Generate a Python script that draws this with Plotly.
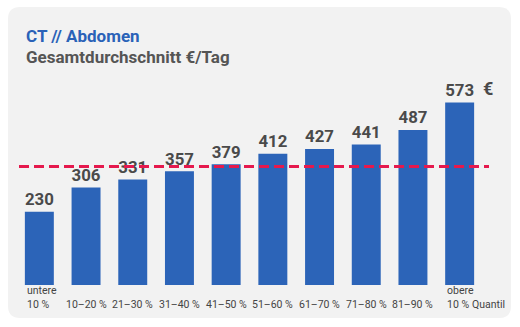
import plotly.graph_objects as go

categories = ["untere<br>10 %", "10–20 %", "21–30 %", "31–40 %", "41–50 %",
              "51–60 %", "61–70 %", "71–80 %", "81–90 %", "obere<br>10 %"]
values = [230, 306, 331, 357, 379, 412, 427, 441, 487, 573]
average = 372
title1 = "CT // Abdomen"
title2 = "Gesamtdurchschnitt €/Tag"
currency = "€"
quantile_label = "Quantil"

W, H = 520, 327
ML, MR, MT, MB = 16, 37, 50, 42
PW, PH = W - ML - MR, H - MT - MB


def px_x(x):
    return (x - ML) / PW


def px_y(y):
    return 1 - (y - MT) / PH


FONT = "Roboto, 'DejaVu Sans', sans-serif"
BLUE = "#2c64b8"
GRAY = "#4a4a4a"

fig = go.Figure()
fig.add_trace(go.Bar(
    x=list(range(len(values))), y=values,
    marker=dict(color=BLUE, line=dict(width=0)),
    text=[str(v) for v in values], textposition="outside",
    textfont=dict(family=FONT, size=18, color=GRAY, weight="bold"),
    cliponaxis=False, width=0.62,
))

# rounded panel
x0, y0, x1, y1, r = 8, 7, 511, 318, 12
path = (f"M {px_x(x0 + r)} {px_y(y0)} L {px_x(x1 - r)} {px_y(y0)} "
        f"Q {px_x(x1)} {px_y(y0)} {px_x(x1)} {px_y(y0 + r)} "
        f"L {px_x(x1)} {px_y(y1 - r)} Q {px_x(x1)} {px_y(y1)} {px_x(x1 - r)} {px_y(y1)} "
        f"L {px_x(x0 + r)} {px_y(y1)} Q {px_x(x0)} {px_y(y1)} {px_x(x0)} {px_y(y1 - r)} "
        f"L {px_x(x0)} {px_y(y0 + r)} Q {px_x(x0)} {px_y(y0)} {px_x(x0 + r)} {px_y(y0)} Z")
fig.add_shape(type="path", path=path, xref="paper", yref="paper",
              fillcolor="#f2f2f2", line=dict(width=0), layer="below")

# average line
fig.add_shape(type="line", xref="paper", yref="y", x0=px_x(19), x1=px_x(489),
              y0=average, y1=average,
              line=dict(color="#e5194d", width=3, dash="10px,5px"), layer="above")

ann = []
for i, c in enumerate(categories):
    first_or_last = i in (0, len(categories) - 1)
    ann.append(dict(x=i - 0.31 if first_or_last else i, xref="x",
                    y=px_y(313), yref="paper", yanchor="bottom",
                    xanchor="left" if first_or_last else "center", align="left",
                    text=c, showarrow=False,
                    font=dict(family=FONT, size=10.5, color="#444")))
ann.append(dict(x=px_x(507), xref="paper", y=px_y(313), yref="paper",
                yanchor="bottom", xanchor="right", text=quantile_label, showarrow=False,
                font=dict(family=FONT, size=10.5, color="#444")))
ann.append(dict(x=len(values) - 1, xref="x", y=values[-1], yref="y", xshift=28,
                yanchor="bottom", yshift=2, xanchor="center", text=currency, showarrow=False,
                font=dict(family=FONT, size=18, color=GRAY, weight="bold")))
ann.append(dict(x=px_x(25), xref="paper", y=px_y(47.5), yref="paper", xanchor="left",
                yanchor="bottom", borderpad=0, text=f"<b>{title1}</b>", showarrow=False,
                font=dict(family=FONT, size=17, color="#2a62b8")))
ann.append(dict(x=px_x(25), xref="paper", y=px_y(46), yref="paper", xanchor="left",
                yanchor="top", borderpad=0, text=f"<b>{title2}</b>", showarrow=False,
                font=dict(family=FONT, size=17, color="#555555")))

fig.update_layout(
    width=W, height=H, margin=dict(l=ML, r=MR, t=MT, b=MB),
    paper_bgcolor="white", plot_bgcolor="rgba(0,0,0,0)",
    showlegend=False, annotations=ann,
    xaxis=dict(range=[-0.5, len(values) - 0.5], showticklabels=False, showgrid=False,
               zeroline=False, showline=False, ticks=""),
    yaxis=dict(range=[0, PH / 0.3184], visible=False, showgrid=False, zeroline=False),
)
fig.write_html("out.html")
